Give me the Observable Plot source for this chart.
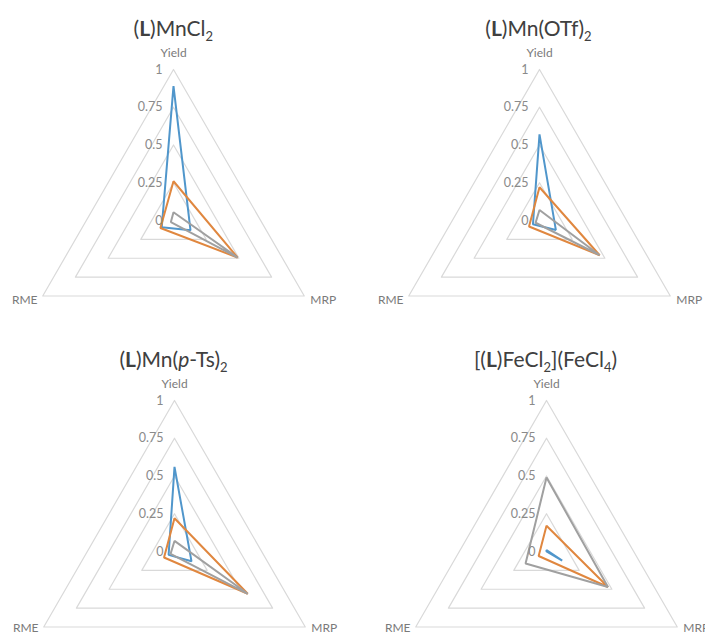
<!DOCTYPE html>
<html><head><meta charset="utf-8">
<script src="https://cdn.jsdelivr.net/npm/d3@7"></script>
<script src="https://cdn.jsdelivr.net/npm/@observablehq/plot@0.6"></script>
<style>
html,body{margin:0;padding:0;background:#fff;overflow:hidden;width:705px;height:634px}
#root{position:relative;width:705px;height:634px;overflow:hidden;font-family:Lato,"Open Sans",sans-serif}
.panel{position:absolute;width:352px;height:320px}
.title{position:absolute;left:0;top:18px;width:352px;height:24px;line-height:24px;text-align:center;font-size:21px;color:#404040;white-space:nowrap}
.title b{font-weight:700}
.title sub{font-size:13px;vertical-align:-5px;line-height:0}
.plot{position:absolute;left:0;top:40px}
</style></head><body><div id="root"></div><script>
// ---- data ----
const axes = ["Yield", "MRP", "RME"];
const axisAngles = [90, -30, 210];
const ringValues = [0.25, 0.5, 0.75, 1];
const tickValues = [0, 0.25, 0.5, 0.75, 1];
const tickLabels = ["0", "0.25", "0.5", "0.75", "1"];
const seriesNames = ["Series 1", "Series 2", "Series 3"];
const seriesColors = ["#5096cb", "#e0873f", "#a0a0a0"];
const panelTitles = [
  "(<b>L</b>)MnCl<sub>2</sub>",
  "(<b>L</b>)Mn(OTf)<sub>2</sub>",
  "(<b>L</b>)Mn(<i>p</i>-Ts)<sub>2</sub>",
  "[(<b>L</b>)FeCl<sub>2</sub>](FeCl<sub>4</sub>)"
];
// values per panel, per series: [Yield, MRP, RME]
const mnCl2Series1 = [0.89, 0.13, 0.09];
const mnCl2Series2 = [0.26, 0.49, 0.10];
const mnCl2Series3 = [0.055, 0.49, 0.02];
const mnOTfSeries1 = [0.57, 0.125, 0.05];
const mnOTfSeries2 = [0.22, 0.46, 0.08];
const mnOTfSeries3 = [0.07, 0.46, 0.03];
const mnTsSeries1 = [0.56, 0.13, 0.045];
const mnTsSeries2 = [0.22, 0.56, 0.08];
const mnTsSeries3 = [0.07, 0.56, 0.03];
const feClSeries1 = [0.01, 0.12, 0.0];
const feClSeries2 = [0.17, 0.47, 0.06];
const feClSeries3 = [0.49, 0.47, 0.16];
const panelSeries = [
  [mnCl2Series1, mnCl2Series2, mnCl2Series3],
  [mnOTfSeries1, mnOTfSeries2, mnOTfSeries3],
  [mnTsSeries1, mnTsSeries2, mnTsSeries3],
  [feClSeries1, feClSeries2, feClSeries3]
];

// ---- layout ----
const centers = [[173.3, 220], [538.5, 220], [173.5, 550.5], [545.5, 550.5]];
const W = 352, H = 270, CX = 176, CY = 182, R = 151;
const rad = a => a * Math.PI / 180;
const px = (v, i) => v * Math.cos(rad(axisAngles[i]));
const py = (v, i) => v * Math.sin(rad(axisAngles[i]));

const root = document.getElementById("root");
panelSeries.forEach((series, p) => {
  const [cx, cy] = centers[p];
  const panel = document.createElement("div");
  panel.className = "panel";
  panel.style.left = (cx - CX) + "px";
  panel.style.top = (cy - CY - 40) + "px";
  const title = document.createElement("div");
  title.className = "title";
  title.innerHTML = panelTitles[p];
  panel.appendChild(title);

  const rings = ringValues.flatMap(r => axes.map((a, i) => ({ring: r, x: px(r, i), y: py(r, i)})));
  const pts = series.flatMap((vals, s) => vals.map((v, i) => ({series: seriesNames[s], x: px(v, i), y: py(v, i)})));
  const ticks = tickValues.map((t, k) => ({x: 0, y: t, label: tickLabels[k]}));
  const axisLab = axes.map((a, i) => ({x: px(1, i), y: py(1, i), label: a, i}));

  const chart = Plot.plot({
    width: W, height: H, margin: 0,
    style: {fontFamily: "Lato, 'Open Sans', sans-serif", background: "transparent", overflow: "visible"},
    x: {domain: [-CX / R, (W - CX) / R], axis: null},
    y: {domain: [-(H - CY) / R, CY / R], axis: null},
    color: {domain: seriesNames, range: seriesColors},
    marks: [
      Plot.line(rings, {x: "x", y: "y", z: "ring", curve: "linear-closed", stroke: "#d9d9d9", strokeWidth: 1.2}),
      Plot.line(pts, {x: "x", y: "y", z: "series", stroke: "series", curve: "linear-closed", strokeWidth: 2, strokeLinejoin: "miter"}),
      Plot.text(ticks, {x: "x", y: "y", text: "label", textAnchor: "end", dx: -11, fontSize: 12.5, fill: "#8a8a8a"}),
      Plot.text(axisLab.filter(d => d.i === 0), {x: "x", y: "y", text: "label", dy: -16, fontSize: 12, fill: "#7a7a7a"}),
      Plot.text(axisLab.filter(d => d.i === 1), {x: "x", y: "y", text: "label", dx: 19, dy: p < 2 ? 4 : 1, fontSize: 12, fill: "#7a7a7a"}),
      Plot.text(axisLab.filter(d => d.i === 2), {x: "x", y: "y", text: "label", dx: -18, dy: p < 2 ? 4 : 1, fontSize: 12, fill: "#7a7a7a"})
    ]
  });
  chart.classList.add("plot");
  panel.appendChild(chart);
  root.appendChild(panel);
});
</script></body></html>
